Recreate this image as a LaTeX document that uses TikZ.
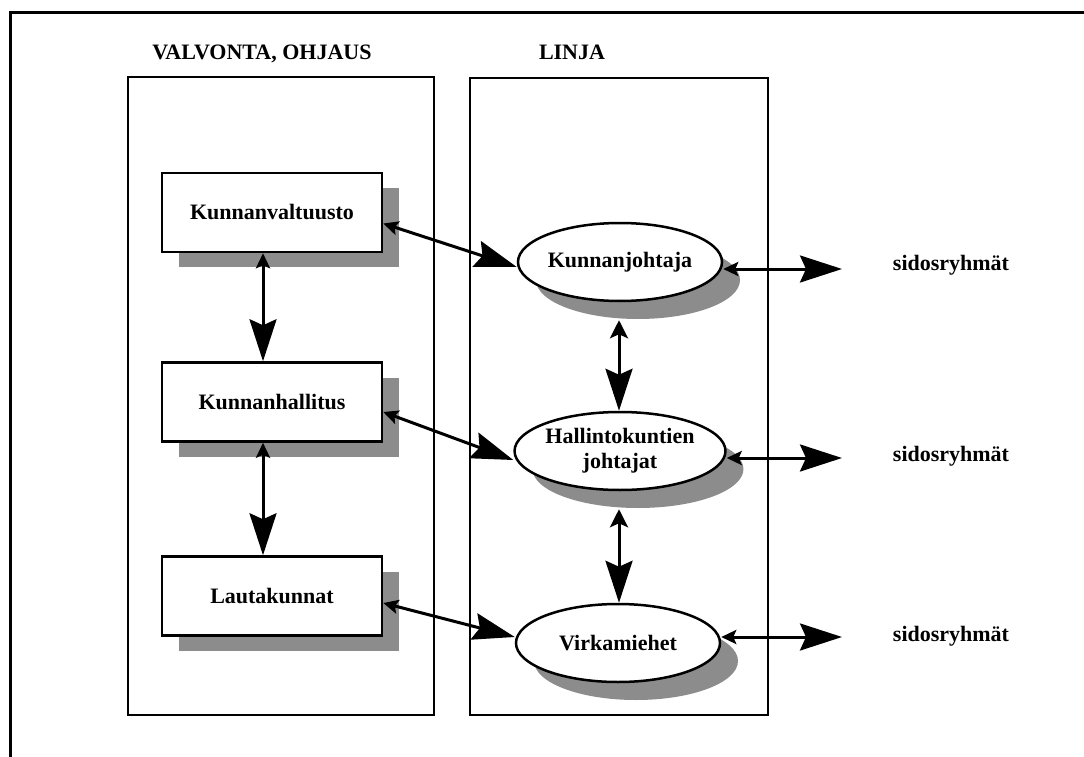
\documentclass[tikz,border=0pt]{standalone}
\usepackage{fontspec}
\setmainfont{Liberation Serif}
\usetikzlibrary{arrows.meta,shapes.geometric,shadows}
\definecolor{shadowgray}{gray}{0.55}
\begin{document}
\begin{tikzpicture}[x=1pt,y=-1pt,
  lbl/.style={font=\bfseries\fontsize{22}{25}\selectfont},
  panel/.style={draw,line width=2.5pt,inner sep=0pt},
  box/.style={draw,line width=2.5pt,fill=white,minimum width=220pt,minimum height=79pt,inner sep=0pt,lbl,
    drop shadow={shadow xshift=17pt,shadow yshift=-15pt,fill=shadowgray,opacity=1}},
  ell/.style={ellipse,draw,line width=2.5pt,fill=white,minimum width=204pt,minimum height=78pt,inner sep=0pt,lbl,align=center,
    drop shadow={shadow xshift=18pt,shadow yshift=-18pt,fill=shadowgray,opacity=1}},
  smalltip/.tip={Stealth[length=15pt,width=14pt,inset=3pt]},
  midtip/.tip={Stealth[length=18pt,width=18pt,inset=4pt]},
  bigtip/.tip={Stealth[length=42pt,width=27pt,inset=6pt]},
  conn/.style={line width=3pt},
  frame/.style={line width=3pt}
]
\useasboundingbox (0,0) rectangle (1084,757);
% outer frame
\coordinate (fbl) at (10,757);
\coordinate (ftl) at (10,13);
\coordinate (ftr) at (1084,13);
\draw[frame] (fbl) -- (ftl) -- (ftr);

% panels
\node[panel,minimum width=306pt,minimum height=638pt] (pl) at (281,396) {};
\node[panel,minimum width=298pt,minimum height=637pt] (pr) at (619,396.5) {};
\node[lbl,anchor=base] (tl) at (262,60) {VALVONTA, OHJAUS};
\node[lbl,anchor=base] (tr) at (572,60) {LINJA};

% left boxes
\node[box] (kv) at (272,212.5) {Kunnanvaltuusto};
\node[box] (kh) at (272,402) {Kunnanhallitus};
\node[box] (la) at (272,596) {Lautakunnat};

% ellipses
\node[ell] (kj) at (620,262) {Kunnanjohtaja};
\node[ell] (hj) at (620,451) {Hallintokuntien\\johtajat};
\node[ell] (vm) at (618,643) {Virkamiehet};

% stakeholders
\node[lbl,anchor=base] (s1) at (951,270) {sidosryhmät};
\node[lbl,anchor=base] (s2) at (951,461) {sidosryhmät};
\node[lbl,anchor=base] (s3) at (951,641) {sidosryhmät};
\coordinate (c1) at (842,269);
\coordinate (c2) at (842,458);
\coordinate (c3) at (842,637);

% vertical connectors left
\draw[conn,{smalltip}-{bigtip}] ([xshift=-9pt]kv.south) -- ([xshift=-9pt]kh.north);
\draw[conn,{smalltip}-{bigtip}] ([xshift=-9pt]kh.south) -- ([xshift=-9pt]la.north);

% vertical connectors right
\draw[conn,{midtip}-{bigtip}] ([xshift=-1pt,yshift=-18pt]kj.south) -- ([xshift=-1pt]hj.north);
\draw[conn,{midtip}-{bigtip}] ([xshift=-1pt,yshift=-18pt]hj.south) -- ([xshift=1pt]vm.north);

% horizontal connectors
\draw[conn,{smalltip}-{bigtip}] ([yshift=-11pt]kv.east) -- ([yshift=-5pt]kj.west);
\draw[conn,{smalltip}-{bigtip}] ([yshift=-10pt]kh.east) -- ([yshift=-9pt]hj.west);
\draw[conn,{smalltip}-{bigtip}] ([yshift=-7pt]la.east) -- ([yshift=6pt]vm.west);

\draw[conn,{smalltip}-{bigtip}] ([yshift=-7pt]kj.east) -- (c1);
\draw[conn,{smalltip}-{bigtip}] ([yshift=-7pt]hj.east) -- (c2);
\draw[conn,{smalltip}-{bigtip}] ([yshift=6pt]vm.east) -- (c3);
\end{tikzpicture}
\end{document}
